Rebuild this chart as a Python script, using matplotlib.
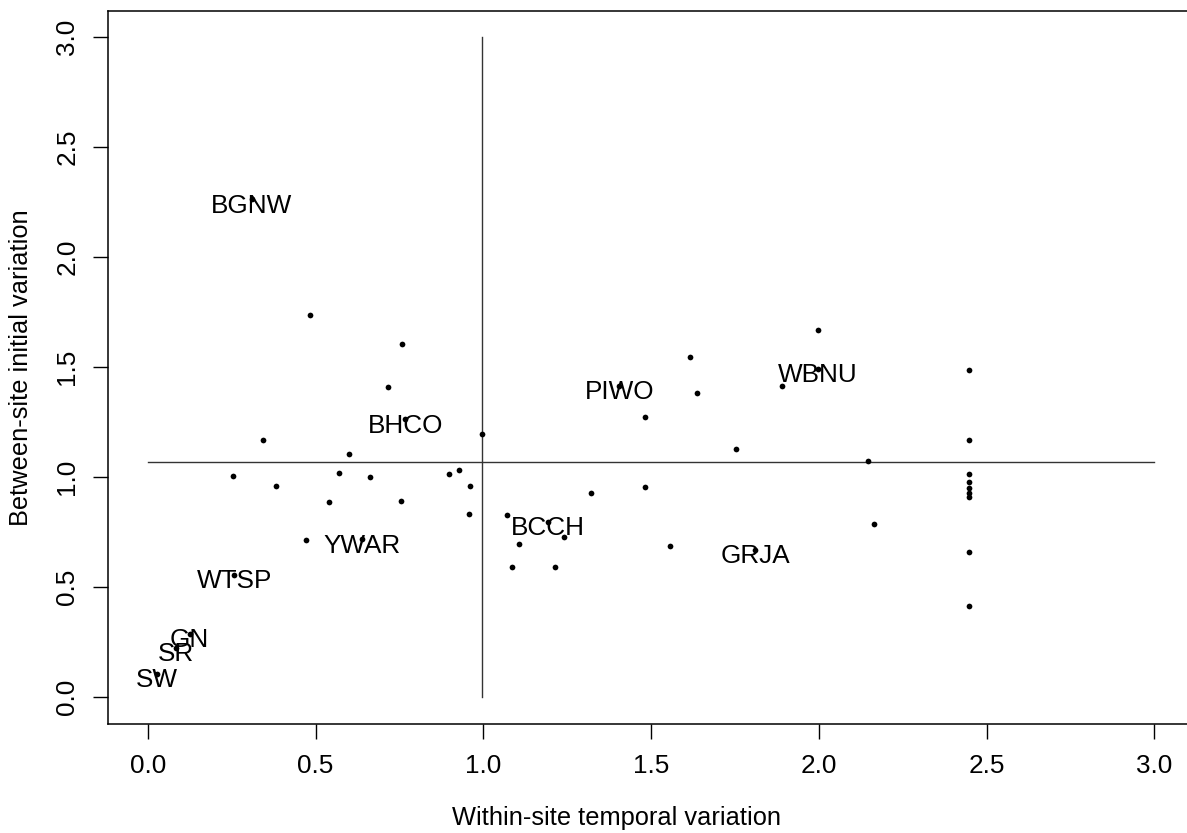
import matplotlib
matplotlib.use("Agg")
import matplotlib.pyplot as plt

plt.rcParams['font.family'] = ['Liberation Sans', 'DejaVu Sans']

# within-site temporal variation (x), between-site initial variation (y), species label
x_vals = [0.310, 0.482, 0.757, 0.715, 0.767, 0.342, 0.995, 0.598, 0.255, 0.571,
          0.662, 0.898, 0.926, 0.383, 0.959, 0.539, 0.753, 0.956, 0.471, 0.638,
          0.258, 0.124, 0.084, 0.026, 1.997, 1.617, 1.998, 1.890, 1.405, 1.638,
          1.482, 1.753, 1.483, 1.322, 1.069, 1.192, 1.239, 1.106, 1.556, 1.810,
          1.084, 1.213, 2.448, 2.448, 2.148, 2.448, 2.448, 2.448, 2.448, 2.448,
          2.164, 2.448, 2.448]
y_vals = [2.263, 1.737, 1.605, 1.409, 1.263, 1.169, 1.195, 1.106, 1.007, 1.020,
          0.999, 1.013, 1.032, 0.960, 0.962, 0.887, 0.891, 0.833, 0.713, 0.718,
          0.557, 0.288, 0.224, 0.107, 1.669, 1.545, 1.493, 1.416, 1.415, 1.381,
          1.272, 1.128, 0.956, 0.928, 0.827, 0.798, 0.727, 0.697, 0.689, 0.669,
          0.592, 0.592, 1.487, 1.169, 1.072, 1.013, 0.977, 0.952, 0.927, 0.909,
          0.786, 0.662, 0.415]
labels = ['BGNW', '', '', '', 'BHCO', '', '', '', '', '',
          '', '', '', '', '', '', '', '', '', 'YWAR',
          'WTSP', 'GN', 'SR', 'SW', '', '', 'WBNU', '', 'PIWO', '',
          '', '', '', '', '', 'BCCH', '', '', '', 'GRJA',
          '', '', '', '', '', '', '', '', '', '',
          '', '', '']

h_line = 1.071   # horizontal reference line (y)
v_line = 0.996   # vertical reference line (x)
ticks = [0.0, 0.5, 1.0, 1.5, 2.0, 2.5, 3.0]
tick_labels = ['0.0', '0.5', '1.0', '1.5', '2.0', '2.5', '3.0']

FS = 18.8

fig = plt.figure(figsize=(11.87, 8.33), dpi=100)
ax = fig.add_axes([107.7 / 1187, 1 - 723.7 / 833, (1194.5 - 107.7) / 1187, (723.7 - 10.7) / 833])
ax.set_xlim(-0.12, 3.12)
ax.set_ylim(-0.12, 3.12)

ax.scatter(x_vals, y_vals, s=17, color='black', zorder=3, linewidths=0)
for xv, yv, lab in zip(x_vals, y_vals, labels):
    if lab:
        ax.annotate(lab, (xv, yv), xytext=(0, -4.5), textcoords='offset points',
                    ha='center', va='center', fontsize=FS, color='black')

ax.plot([0, 3], [h_line, h_line], color='#333333', lw=1.0)
ax.plot([v_line, v_line], [0, 3], color='#333333', lw=1.0)

for sp in ax.spines.values():
    sp.set_linewidth(1.1)
    sp.set_color('black')

ax.set_xticks(ticks)
ax.set_xticklabels(tick_labels)
ax.set_yticks(ticks)
ax.set_yticklabels(tick_labels)
ax.tick_params(axis='both', length=10.5, width=1.0, labelsize=FS, direction='out')
ax.tick_params(axis='x', pad=11)
ax.tick_params(axis='y', pad=10)
for lbl in ax.get_yticklabels():
    lbl.set_rotation(90)
    lbl.set_va('center')
    lbl.set_ha('right')

ax.set_xlabel('Within-site temporal variation', fontsize=18.3)
ax.set_ylabel('Between-site initial variation', fontsize=18.3)
ax.xaxis.set_label_coords((616 - 107.7) / (1194.5 - 107.7), -0.116)
ax.yaxis.set_label_coords(-0.069, 0.5)

fig.savefig('out.png', dpi=100)
